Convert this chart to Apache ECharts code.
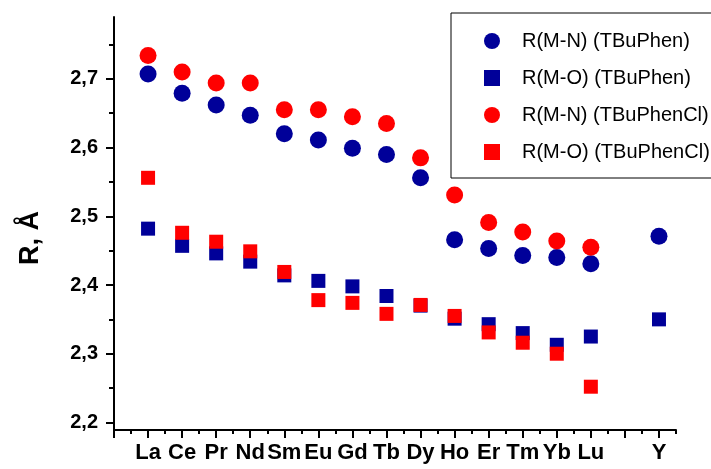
<!DOCTYPE html>
<html>
<head>
<meta charset="utf-8">
<script src="https://cdn.jsdelivr.net/npm/echarts@6/dist/echarts.min.js"></script>
<style>html,body{margin:0;padding:0;background:#fff}#c{width:711px;height:469px}</style>
</head>
<body>
<div id="c"></div>
<script>
// Element tick labels (empty string = gap position before Y)
var tickLabels = ['La','Ce','Pr','Nd','Sm','Eu','Gd','Tb','Dy','Ho','Er','Tm','Yb','Lu','','Y'];
// Series values, aligned with tickLabels
var mnTBuPhen   = [2.707,2.679,2.662,2.647,2.620,2.611,2.599,2.590,2.556,2.466,2.453,2.443,2.440,2.431,null,2.471];
var moTBuPhen   = [2.482,2.457,2.446,2.434,2.414,2.406,2.398,2.384,2.370,2.351,2.343,2.330,2.313,2.325,null,2.350];
var mnTBuPhenCl = [2.734,2.710,2.694,2.694,2.655,2.655,2.645,2.635,2.585,2.531,2.491,2.477,2.464,2.455,null,null];
var moTBuPhenCl = [2.556,2.476,2.463,2.449,2.419,2.378,2.374,2.358,2.371,2.355,2.331,2.316,2.300,2.252,null,null];
var yTicks = [2.2,2.3,2.4,2.5,2.6,2.7];
var yMinor = [2.25,2.35,2.45,2.55,2.65,2.75];
var seriesNames = ['R(M-N) (TBuPhen)','R(M-O) (TBuPhen)','R(M-N) (TBuPhenCl)','R(M-O) (TBuPhenCl)'];

function pairs(arr){
  var out=[];
  arr.forEach(function(v,i){ if(v!==null) out.push([i+1,v]); });
  return out;
}
var xMajor=[], xMinor=[];
for (var i=0;i<=tickLabels.length;i++){ xMajor.push(i); xMinor.push(i+0.5); }

var FONT = "'Liberation Sans', Arial, sans-serif";
var BLUE = '#000099', RED = '#ff0000';

var chart = echarts.init(document.getElementById('c'), null, {renderer:'canvas'});
var axisLine = {show:true, lineStyle:{color:'#000', width:2}};
chart.setOption({
  animation:false,
  backgroundColor:'#fff',
  grid:{left:114, right:35, top:17, bottom:39, containLabel:false},
  xAxis:[{
    type:'value', min:0, max:tickLabels.length+0.5,
    axisLine:axisLine,
    splitLine:{show:false},
    axisTick:{show:true, customValues:xMajor, length:8, lineStyle:{color:'#000', width:2}},
    axisLabel:{show:true, customValues:xMajor.slice(1), margin:12,
      formatter:function(v){ var k=Math.round(v)-1; return tickLabels[k]||''; },
      color:'#000', fontFamily:FONT, fontWeight:'bold', fontSize:22}
  },{
    type:'value', min:0, max:tickLabels.length+0.5, position:'bottom',
    axisLine:{show:false}, splitLine:{show:false}, axisLabel:{show:false},
    axisTick:{show:true, customValues:xMinor, length:4, lineStyle:{color:'#000', width:2}}
  }],
  yAxis:[{
    type:'value', min:2.189, max:2.79,
    axisLine:axisLine,
    splitLine:{show:false},
    axisTick:{show:true, customValues:yTicks, length:8, lineStyle:{color:'#000', width:2}},
    axisLabel:{show:true, customValues:yTicks, margin:16,
      formatter:function(v){ return v.toFixed(1).replace('.',','); },
      color:'#000', fontFamily:FONT, fontWeight:'bold', fontSize:20}
  },{
    type:'value', min:2.189, max:2.79, position:'left',
    axisLine:{show:false}, splitLine:{show:false}, axisLabel:{show:false},
    axisTick:{show:true, customValues:yMinor, length:5, lineStyle:{color:'#000', width:2}}
  }],
  legend:{
    orient:'vertical', left:451, top:13,
    padding:[18,40,16,33],
    borderColor:'#000', borderWidth:1,
    itemWidth:16, itemHeight:16, itemGap:17,
    textStyle:{fontFamily:FONT, fontSize:20, color:'#000', padding:[0,0,0,17]},
    data:[
      {name:seriesNames[0], icon:'circle'},
      {name:seriesNames[1], icon:'rect'},
      {name:seriesNames[2], icon:'circle'},
      {name:seriesNames[3], icon:'rect'}
    ]
  },
  graphic:[{
    type:'text', x:31, y:238, rotation:Math.PI/2,
    style:{text:'R, Å', fontFamily:FONT, fontWeight:'bold', fontSize:27, fill:'#000',
      textAlign:'center', textVerticalAlign:'middle'}
  }],
  series:[
    {name:seriesNames[0], type:'scatter', symbol:'circle', symbolSize:17, itemStyle:{color:BLUE, opacity:1}, data:pairs(mnTBuPhen)},
    {name:seriesNames[1], type:'scatter', symbol:'rect', symbolSize:14, itemStyle:{color:BLUE, opacity:1}, data:pairs(moTBuPhen)},
    {name:seriesNames[2], type:'scatter', symbol:'circle', symbolSize:17, itemStyle:{color:RED, opacity:1}, data:pairs(mnTBuPhenCl)},
    {name:seriesNames[3], type:'scatter', symbol:'rect', symbolSize:14, itemStyle:{color:RED, opacity:1}, data:pairs(moTBuPhenCl)}
  ]
});
</script>
</body>
</html>
